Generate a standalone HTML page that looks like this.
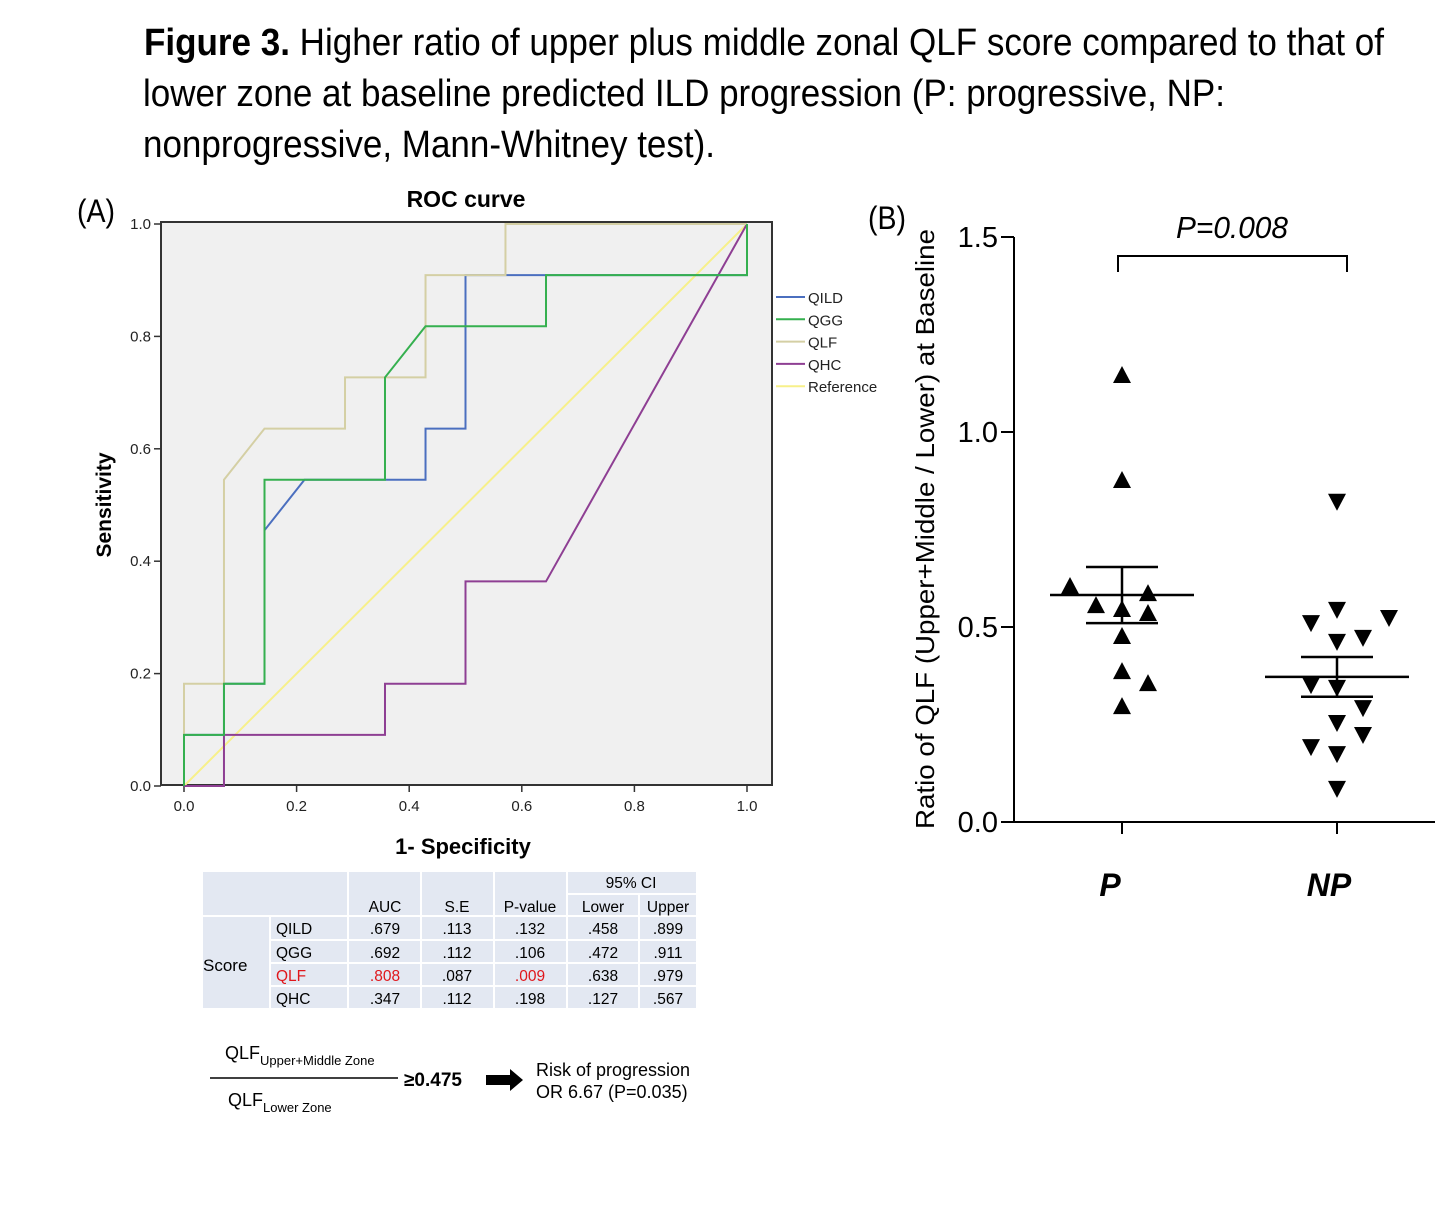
<!DOCTYPE html>
<html><head><meta charset="utf-8"><style>
html,body{margin:0;padding:0;background:#fff}
svg{display:block;font-family:"Liberation Sans",sans-serif}
</style></head><body>
<svg id="fig" width="1435" height="1208" viewBox="0 0 1435 1208" xmlns="http://www.w3.org/2000/svg">
<g font-size="38" fill="#000">
<text x="144" y="55" textLength="1240" lengthAdjust="spacingAndGlyphs"><tspan font-weight="bold">Figure 3.</tspan> Higher ratio of upper plus middle zonal QLF score compared to that of</text>
<text x="143" y="106" textLength="1082" lengthAdjust="spacingAndGlyphs">lower zone at baseline predicted ILD progression (P: progressive, NP:</text>
<text x="143" y="157" textLength="572" lengthAdjust="spacingAndGlyphs">nonprogressive, Mann-Whitney test).</text>
</g>
<text x="77" y="222" font-size="32" textLength="38" lengthAdjust="spacingAndGlyphs">(A)</text>
<text x="868" y="229" font-size="32" textLength="38" lengthAdjust="spacingAndGlyphs">(B)</text>
<g id="roc"></g>
<g id="dot"></g>
<g font-size="15.5" fill="#000">
<rect x="203" y="872" width="493" height="136" fill="#e3e8f2"/>
<g stroke="#fff" stroke-width="2">
<line x1="270" y1="916" x2="270" y2="1008"/><line x1="348" y1="872" x2="348" y2="1008"/>
<line x1="421" y1="872" x2="421" y2="1008"/><line x1="494" y1="872" x2="494" y2="1008"/>
<line x1="567" y1="872" x2="567" y2="1008"/><line x1="639" y1="894" x2="639" y2="1008"/>
<line x1="567" y1="894" x2="696" y2="894"/><line x1="203" y1="916" x2="696" y2="916"/>
<line x1="270" y1="940" x2="696" y2="940"/><line x1="270" y1="963" x2="696" y2="963"/><line x1="270" y1="986" x2="696" y2="986"/>
</g>
<g text-anchor="middle">
<text x="631" y="888">95% CI</text>
<text x="385" y="912">AUC</text><text x="457" y="912">S.E</text><text x="530" y="912">P-value</text><text x="603" y="912">Lower</text><text x="668" y="912">Upper</text>
<text x="385" y="934">.679</text><text x="457" y="934">.113</text><text x="530" y="934">.132</text><text x="603" y="934">.458</text><text x="668" y="934">.899</text>
<text x="385" y="958">.692</text><text x="457" y="958">.112</text><text x="530" y="958">.106</text><text x="603" y="958">.472</text><text x="668" y="958">.911</text>
<text x="385" y="981" fill="#e0161b">.808</text><text x="457" y="981">.087</text><text x="530" y="981" fill="#e0161b">.009</text><text x="603" y="981">.638</text><text x="668" y="981">.979</text>
<text x="385" y="1004">.347</text><text x="457" y="1004">.112</text><text x="530" y="1004">.198</text><text x="603" y="1004">.127</text><text x="668" y="1004">.567</text>
</g>
<text x="203" y="971" font-size="17">Score</text>
<text x="276" y="934">QILD</text><text x="276" y="958">QGG</text><text x="276" y="981" fill="#e0161b">QLF</text><text x="276" y="1004">QHC</text>
</g>
<g fill="#000">
<text x="225" y="1059" font-size="18">QLF<tspan font-size="13" dy="6">Upper+Middle  Zone</tspan></text>
<line x1="210" y1="1078" x2="398" y2="1078" stroke="#000" stroke-width="1.5"/>
<text x="228" y="1106" font-size="18">QLF<tspan font-size="13" dy="6">Lower Zone</tspan></text>
<text x="404" y="1086" font-size="19" font-weight="bold">≥0.475</text>
<polygon points="486,1075 510,1075 510,1069 523,1080 510,1091 510,1085 486,1085" fill="#000"/>
<text x="536" y="1076" font-size="18">Risk of progression</text>
<text x="536" y="1098" font-size="18">OR 6.67 (P=0.035)</text>
</g>
</svg>
<script>
// ROC data (x = 1-specificity, y = sensitivity)
const qildX = [0,0,0.071,0.071,0.143,0.143,0.214,0.429,0.429,0.5,0.5,1,1];
const qildY = [0,0.091,0.091,0.182,0.182,0.455,0.545,0.545,0.636,0.636,0.909,0.909,1];
const qggX = [0,0,0.071,0.071,0.143,0.143,0.357,0.357,0.429,0.643,0.643,1,1];
const qggY = [0,0.091,0.091,0.182,0.182,0.545,0.545,0.727,0.818,0.818,0.909,0.909,1];
const qlfX = [0,0,0.071,0.071,0.143,0.286,0.286,0.429,0.429,0.571,0.571,1];
const qlfY = [0,0.182,0.182,0.545,0.636,0.636,0.727,0.727,0.909,0.909,1,1];
const qhcX = [0,0.071,0.071,0.357,0.357,0.5,0.5,0.643,1];
const qhcY = [0,0,0.091,0.091,0.182,0.182,0.364,0.364,1];
const refX = [0,1];
const refY = [0,1];
const rocTicks = [0,0.2,0.4,0.6,0.8,1.0];
const rocTickLabels = ["0.0","0.2","0.4","0.6","0.8","1.0"];
const legendNames = ["QILD","QGG","QLF","QHC","Reference"];
// Dot plot data
const pValues = [1.146,0.877,0.605,0.587,0.556,0.546,0.536,0.477,0.387,0.356,0.297];
const pJitter = [0,0,-2,1,-1,0,1,0,0,1,0];
const npValues = [0.821,0.544,0.510,0.523,0.462,0.472,0.351,0.344,0.292,0.254,0.223,0.192,0.174,0.085];
const npJitter = [0,0,-1,2,0,1,-1,0,1,0,1,-1,0,0];
const groupMean = [0.582,0.372];
const groupSem = [0.072,0.051];
const groupNames = ["P","NP"];
const dotTicks = [0,0.5,1.0,1.5];
const dotTickLabels = ["0.0","0.5","1.0","1.5"];
const pLabel = "P=0.008";

const NS="http://www.w3.org/2000/svg";
function mk(tag, parent, attrs){const e=document.createElementNS(NS,tag);for(const k in attrs)e.setAttribute(k,attrs[k]);parent.appendChild(e);return e;}

// ROC
const roc=document.getElementById('roc');
const rx=v=>184+v*563, ry=v=>786-v*562;
const bg=mk('rect',roc,{x:161,y:222,width:611,height:563,fill:'#f0f0f0',stroke:'#333','stroke-width':2});


const rt=mk('text',roc,{x:466,y:207,'font-size':23,'font-weight':'bold','text-anchor':'middle'});rt.textContent='ROC curve';


rocTicks.forEach((t,i)=>{
  mk('line',roc,{x1:rx(t),y1:785,x2:rx(t),y2:792,stroke:'#333','stroke-width':1.5});
  const xl=mk('text',roc,{x:rx(t),y:811,'font-size':15,'text-anchor':'middle',fill:'#222'});xl.textContent=rocTickLabels[i];
  
  
  mk('line',roc,{x1:154,y1:ry(t),x2:161,y2:ry(t),stroke:'#333','stroke-width':1.5});
  const yl=mk('text',roc,{x:151,y:ry(t)+5,'font-size':15,'text-anchor':'end',fill:'#222'});yl.textContent=rocTickLabels[i];
  
  
});
const xt=mk('text',roc,{x:463,y:854,'font-size':22,'font-weight':'bold','text-anchor':'middle'});xt.textContent='1- Specificity';


const yt=mk('text',roc,{x:0,y:0,'font-size':21,'font-weight':'bold','text-anchor':'middle',transform:'translate(111,505) rotate(-90)'});yt.textContent='Sensitivity';


const series=[[refX,refY,'#f7f08a','reference-line'],[qhcX,qhcY,'#8e3f93','qhc-curve'],[qildX,qildY,'#4b6fbf','qild-curve'],[qlfX,qlfY,'#d4cfa4','qlf-curve'],[qggX,qggY,'#35b04f','qgg-curve']];
series.forEach(s=>{
  const pts=s[0].map((x,i)=>rx(x)+','+ry(s[1][i])).join(' ');
  const pl=mk('polyline',roc,{points:pts,fill:'none',stroke:s[2],'stroke-width':2});
  
  
});
const legColors=['#4b6fbf','#35b04f','#d4cfa4','#8e3f93','#f7f08a'];
legendNames.forEach((n,i)=>{
  const y=297+i*22.3;
  const g=mk('g',roc,{});
  
  
  mk('line',g,{x1:776,y1:y,x2:805,y2:y,stroke:legColors[i],'stroke-width':2});
  const t=mk('text',g,{x:808,y:y+6,'font-size':15,fill:'#222'});t.textContent=n;
});

// Dot plot
const dot=document.getElementById('dot');
const dy=v=>822-v*390;
const gx=[1122,1337];
const jit=26;
const ax=mk('polyline',dot,{points:'1014,237 1014,822 1435,822',fill:'none',stroke:'#000','stroke-width':2});


dotTicks.forEach((t,i)=>{
  mk('line',dot,{x1:1001,y1:dy(t),x2:1014,y2:dy(t),stroke:'#000','stroke-width':2});
  const l=mk('text',dot,{x:998,y:dy(t)+10,'font-size':29,'text-anchor':'end'});l.textContent=dotTickLabels[i];
  
  
});
groupNames.forEach((n,i)=>{
  mk('line',dot,{x1:gx[i],y1:822,x2:gx[i],y2:834,stroke:'#000','stroke-width':2});
  const l=mk('text',dot,{x:gx[i]-12+(i?4:0),y:896,'font-size':32,'font-style':'italic','font-weight':'bold','text-anchor':'middle'});l.textContent=n;
  
  
});
const dyt=mk('text',dot,{x:0,y:0,'font-size':26,'text-anchor':'middle',transform:'translate(934,529) rotate(-90)',textLength:600,lengthAdjust:'spacingAndGlyphs'});
dyt.textContent='Ratio of QLF (Upper+Middle / Lower) at Baseline';


function tri(cx,cy,up){
  const p=up?`${cx-9},${cy+8} ${cx+9},${cy+8} ${cx},${cy-9}`:`${cx-9},${cy-8} ${cx+9},${cy-8} ${cx},${cy+9}`;
  const t=mk('polygon',dot,{points:p,fill:'#000'});
  
  
}
pValues.forEach((v,i)=>tri(gx[0]+pJitter[i]*jit,dy(v),true));
npValues.forEach((v,i)=>tri(gx[1]+npJitter[i]*jit,dy(v),false));
groupMean.forEach((m,i)=>{
  const g=mk('g',dot,{stroke:'#000','stroke-width':2.5});
  
  
  mk('line',g,{x1:gx[i]-72,y1:dy(m),x2:gx[i]+72,y2:dy(m)});
  mk('line',g,{x1:gx[i]-36,y1:dy(m+groupSem[i]),x2:gx[i]+36,y2:dy(m+groupSem[i])});
  mk('line',g,{x1:gx[i]-36,y1:dy(m-groupSem[i]),x2:gx[i]+36,y2:dy(m-groupSem[i])});
  mk('line',g,{x1:gx[i],y1:dy(m+groupSem[i]),x2:gx[i],y2:dy(m-groupSem[i])});
});
const br=mk('polyline',dot,{points:'1118,272 1118,256 1347,256 1347,272',fill:'none',stroke:'#000','stroke-width':2});


const pl=mk('text',dot,{x:1232,y:238,'font-size':31,'font-style':'italic','text-anchor':'middle',textLength:112,lengthAdjust:'spacingAndGlyphs'});pl.textContent=pLabel;


</script>
</body></html>
